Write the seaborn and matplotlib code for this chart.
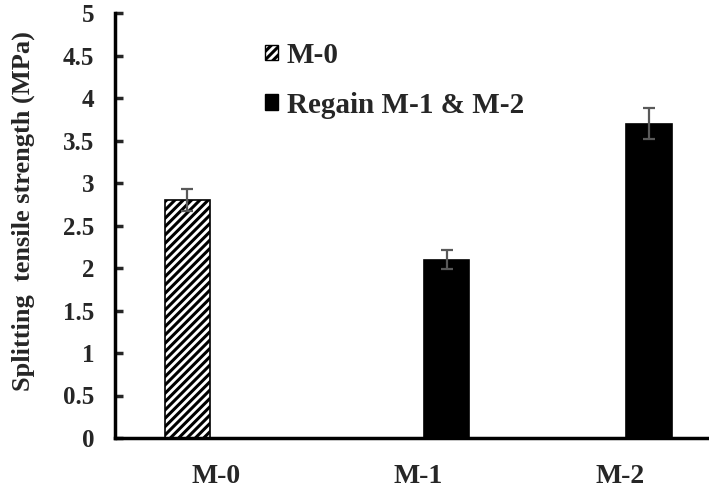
import matplotlib
matplotlib.use("Agg")
import matplotlib.pyplot as plt
import matplotlib.patches as mpatches
import seaborn as sns
import pandas as pd

categories = ["M-0", "M-1", "M-2"]
series = ["M-0", "Regain M-1 & M-2", "Regain M-1 & M-2"]
values = [2.8, 2.1, 3.7]
errors = [0.13, 0.11, 0.18]
hue_order = ["M-0", "Regain M-1 & M-2"]
yticks = [0, 0.5, 1, 1.5, 2, 2.5, 3, 3.5, 4, 4.5, 5]
ytick_labels = ["0", "0.5", "1", "1.5", "2", "2.5", "3", "3.5", "4", "4.5", "5"]

df = pd.DataFrame({"cat": categories, "series": series, "val": values})

sns.set_style("white")
plt.rcParams["font.family"] = ["Liberation Serif", "DejaVu Serif"]
plt.rcParams["font.weight"] = "bold"
plt.rcParams["hatch.linewidth"] = 2.2

fig = plt.figure(figsize=(7.09, 4.90), dpi=100)
ax = fig.add_axes([115 / 709, 1 - 438 / 490, 1 - 115 / 709, (438 - 13) / 490])

sns.barplot(data=df, x="cat", y="val", hue="series", hue_order=hue_order,
            order=categories, palette=["white", "black"], width=0.566, gap=0.21,
            dodge=True, edgecolor="black", linewidth=1.2, legend=False, ax=ax,
            errorbar=None)

for p in ax.patches:
    h = p.get_height()
    if h is None or h != h or h <= 0:
        continue
    xc = p.get_x() + p.get_width() / 2
    idx = int(round(xc))
    if categories[idx] == "M-0":
        p.set_facecolor("white")
        p.set_hatch("////")
    ax.errorbar(xc, values[idx], yerr=errors[idx], fmt="none", ecolor="#595959",
                elinewidth=1.6, capsize=4.5, capthick=1.6, zorder=5)

ax.set_xlim(-0.5, -0.5 + 592 / 201.5)
ax.set_ylim(0, 5)
ax.set_yticks(yticks)
ax.set_yticklabels(ytick_labels, fontsize=18, fontweight="bold")
ax.set_xticks(range(len(categories)))
ax.set_xticklabels(categories, fontsize=20, fontweight="bold")
ax.set_xlabel("")
ax.set_ylabel("Splitting  tensile strength (MPa)", fontsize=19, fontweight="bold")
ax.yaxis.set_label_coords(-0.135, 0.534)
ax.tick_params(axis="y", direction="in", length=6, width=2.5, pad=15, left=True)
ax.tick_params(axis="x", length=0, pad=19)
for s in ["top", "right"]:
    ax.spines[s].set_visible(False)
for s in ["left", "bottom"]:
    ax.spines[s].set_linewidth(2.5)
    ax.spines[s].set_color("black")

handles = [mpatches.Patch(facecolor="white", edgecolor="black", hatch="////", label=hue_order[0]),
           mpatches.Patch(facecolor="black", edgecolor="black", label=hue_order[1])]
ax.legend(handles=handles, loc="upper left", bbox_to_anchor=(0.252, 0.932), frameon=False,
          borderpad=0, borderaxespad=0,
          handlelength=0.45, handleheight=0.45, handletextpad=0.3, labelspacing=0.78,
          prop={"family": "Liberation Serif", "weight": "bold", "size": 21})

fig.savefig("out.png", dpi=100)
